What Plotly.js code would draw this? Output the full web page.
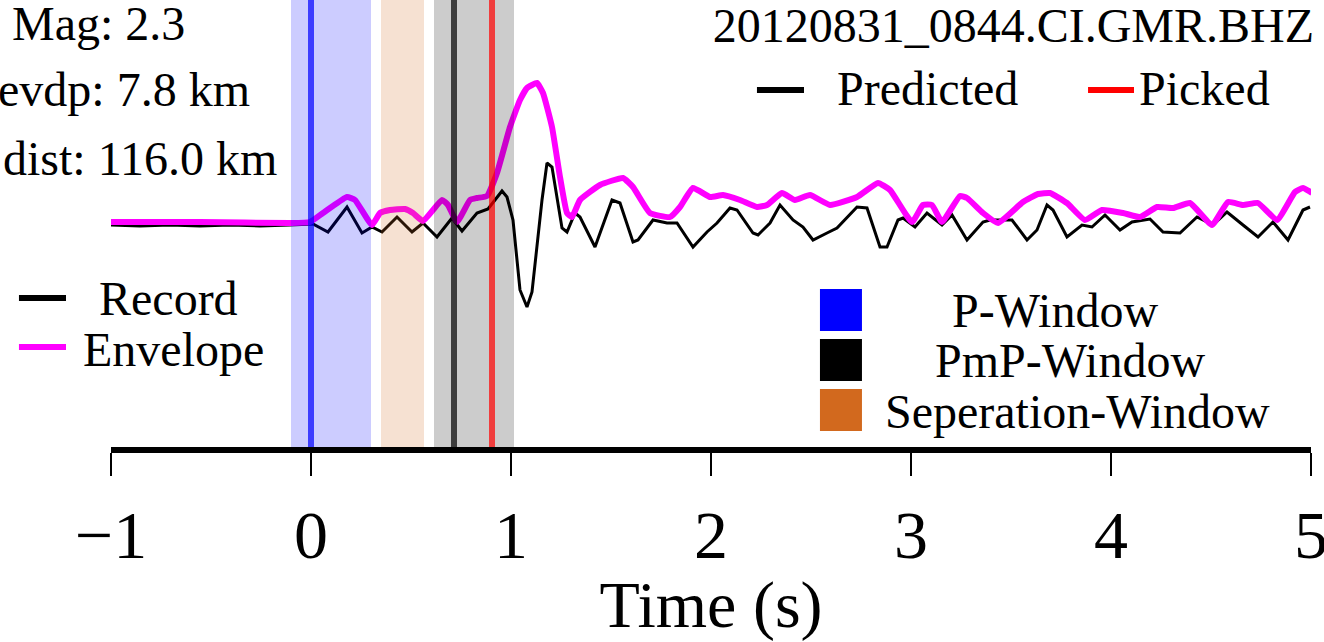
<!DOCTYPE html>
<html>
<head>
<meta charset="utf-8">
<script src="https://cdn.plot.ly/plotly-3.0.1.min.js"></script>
<style>html,body{margin:0;padding:0;background:#fff;}#chart{width:1324px;height:642px;}</style>
</head>
<body>
<div id="chart"></div>
<script>
// ---- Data ----
const stationName = "20120831_0844.CI.GMR.BHZ";
const eventInfo = ["Mag: 2.3", "evdp: 7.8 km", "dist: 116.0 km"];

// Record waveform (time in s, normalized amplitude)
const recordTime = [-1.000,-0.855,-0.705,-0.555,-0.405,-0.255,-0.105,0.010,0.085,0.180,0.255,0.305,0.355,0.430,0.505,0.560,0.630,0.705,0.755,0.830,0.885,0.955,0.980,1.010,1.045,1.080,1.105,1.155,1.180,1.205,1.255,1.280,1.320,1.345,1.420,1.505,1.545,1.610,1.635,1.710,1.780,1.830,1.910,1.980,2.030,2.095,2.130,2.210,2.235,2.295,2.345,2.410,2.460,2.510,2.580,2.630,2.730,2.780,2.845,2.880,2.935,2.960,3.020,3.080,3.155,3.205,3.280,3.360,3.395,3.505,3.580,3.630,3.680,3.710,3.780,3.855,3.905,3.970,4.045,4.105,4.195,4.260,4.345,4.430,4.510,4.580,4.660,4.735,4.810,4.885,4.960,4.995];
const recordAmp = [-0.02,-0.03,-0.02,-0.03,-0.02,-0.03,-0.02,-0.01,-0.09,0.16,-0.10,-0.04,-0.09,0.06,-0.09,0.00,-0.14,0.05,-0.08,0.10,0.14,0.32,0.26,0.03,-0.67,-0.84,-0.69,0.23,0.60,0.56,-0.05,-0.09,0.10,0.06,-0.24,0.23,0.20,-0.19,-0.17,0.03,0.00,0.00,-0.24,-0.09,0.00,0.15,0.13,-0.10,-0.12,0.00,0.18,0.03,-0.04,-0.17,-0.10,-0.05,0.16,0.15,-0.24,-0.24,0.03,0.05,-0.04,0.10,-0.02,0.08,-0.17,0.01,0.03,0.03,-0.17,-0.07,0.18,0.13,-0.14,-0.02,-0.04,0.08,-0.07,0.01,0.04,-0.09,-0.10,0.06,-0.02,0.11,-0.02,-0.14,0.01,-0.17,0.13,0.16];

// Envelope
const envTime = [-1.000,-0.555,-0.105,-0.005,0.060,0.180,0.220,0.305,0.345,0.395,0.470,0.510,0.560,0.655,0.685,0.730,0.795,0.830,0.880,0.930,0.995,1.045,1.080,1.130,1.160,1.205,1.245,1.280,1.305,1.345,1.445,1.560,1.610,1.695,1.795,1.845,1.910,1.995,2.060,2.145,2.230,2.280,2.355,2.420,2.495,2.595,2.730,2.835,2.895,3.005,3.060,3.105,3.155,3.245,3.280,3.360,3.435,3.560,3.635,3.695,3.780,3.870,3.955,4.060,4.145,4.230,4.310,4.395,4.505,4.585,4.660,4.735,4.830,4.920,4.960,5.005];
const envAmp = [0.01,0.01,0.00,0.01,0.10,0.26,0.23,-0.02,0.10,0.13,0.14,0.10,0.02,0.23,0.18,0.01,0.23,0.25,0.27,0.50,0.96,1.23,1.35,1.40,1.30,0.96,0.46,0.10,0.06,0.23,0.38,0.45,0.36,0.10,0.06,0.16,0.35,0.26,0.28,0.23,0.16,0.18,0.30,0.23,0.28,0.18,0.26,0.40,0.33,0.01,0.18,0.18,0.01,0.27,0.25,0.10,0.00,0.21,0.29,0.30,0.20,0.03,0.13,0.10,0.06,0.16,0.15,0.20,-0.02,0.21,0.18,0.20,0.03,0.31,0.35,0.30];

// Windows and phase times (s)
const pWindow = [-0.1, 0.3];
const sepWindow = [0.35, 0.565];
const pmpWindow = [0.615, 1.015];
const pArrival = 0.0;
const pmpPredicted = 0.715;
const pmpPicked = 0.905;

const xTicks = [-1, 0, 1, 2, 3, 4, 5];
const xRange = [-1, 5];
const yRange = [-2.24, 2.23];

// ---- Figure ----
const FONT = "Liberation Serif, Times New Roman, serif";

const traces = [
  {x: recordTime, y: recordAmp, type: "scatter", mode: "lines",
   line: {color: "#000000", width: 3}, name: "Record", showlegend: false, hoverinfo: "skip"},
  {x: envTime, y: envAmp, type: "scatter", mode: "lines",
   line: {color: "#ff00ff", width: 6, shape: "spline", smoothing: 0.4}, name: "Envelope", showlegend: false, hoverinfo: "skip"}
];

function vrect(win, color) {
  return {type: "rect", xref: "x", yref: "paper", x0: win[0], x1: win[1], y0: 0, y1: 1,
          fillcolor: color, line: {width: 0}, layer: "above"};
}
function vline(t, color) {
  return {type: "line", xref: "x", yref: "paper", x0: t, x1: t, y0: 0, y1: 1,
          line: {color: color, width: 6}, layer: "above"};
}
function legLine(x0, x1, y, color) {
  return {type: "line", xref: "paper", yref: "paper", x0: x0, x1: x1, y0: y, y1: y,
          line: {color: color, width: 6}};
}
function legBox(x0, x1, y0, y1, color) {
  return {type: "rect", xref: "paper", yref: "paper", x0: x0, x1: x1, y0: y0, y1: y1,
          fillcolor: color, line: {width: 0}};
}

const shapes = [
  vrect(pWindow, "rgba(0,0,255,0.2)"),
  vrect(sepWindow, "rgba(210,105,30,0.2)"),
  vrect(pmpWindow, "rgba(0,0,0,0.2)"),
  vline(pArrival, "rgba(0,0,255,0.7)"),
  vline(pmpPredicted, "rgba(0,0,0,0.7)"),
  vline(pmpPicked, "rgba(255,0,0,0.7)"),
  legLine(0.5383, 0.5775, 0.7987, "#000000"),
  legLine(0.8142, 0.8525, 0.7987, "#ff0000"),
  legLine(-0.0767, -0.0375, 0.3333, "#000000"),
  legLine(-0.0767, -0.0375, 0.2237, "#ff00ff"),
  legBox(0.5908, 0.6258, 0.2595, 0.3535, "#0000ff"),
  legBox(0.5908, 0.6258, 0.1477, 0.2416, "#000000"),
  legBox(0.5908, 0.6258, 0.0358, 0.1298, "#d2691e")
];

function ann(text, x, y, xanchor) {
  return {text: text, xref: "paper", yref: "paper", x: x, y: y, xanchor: xanchor, yanchor: "middle",
          showarrow: false, font: {family: FONT, size: 48, color: "#000"}};
}

const annotations = [
  ann(eventInfo[0], -0.0842, 0.9485, "left"),
  ann(eventInfo[1], -0.0958, 0.7987, "left"),
  ann(eventInfo[2], -0.0917, 0.6465, "left"),
  ann("Predicted", 0.6033, 0.8009, "left"),
  ann("Picked", 0.8550, 0.8009, "left"),
  ann("Record", 0.0475, 0.3311, "center"),
  ann("Envelope", 0.0517, 0.2192, "center"),
  ann("P-Window", 0.7867, 0.3043, "center"),
  ann("PmP-Window", 0.7992, 0.1924, "center"),
  ann("Seperation-Window", 0.8058, 0.0805, "center")
];

const layout = {
  width: 1324, height: 642,
  margin: {l: 111, r: 13, t: 0, b: 195},
  paper_bgcolor: "#ffffff", plot_bgcolor: "#ffffff",
  showlegend: false,
  font: {family: FONT, color: "#000"},
  title: {text: stationName, font: {family: FONT, size: 48, color: "#000"},
          xref: "container", x: 0.9925, xanchor: "right", yref: "container", y: 0.961, yanchor: "middle"},
  xaxis: {
    range: xRange, tickmode: "array", tickvals: xTicks, ticktext: xTicks.map(v => v < 0 ? "\u2212" + Math.abs(v) : String(v)),
    showgrid: false, zeroline: false,
    showline: true, linecolor: "#000", linewidth: 6,
    ticks: "outside", ticklen: 23, tickwidth: 1.5, tickcolor: "#000",
    ticklabelstandoff: 0, ticklabeloverflow: "allow",
    tickfont: {family: FONT, size: 68, color: "#000"},
    title: {text: "Time (s)", font: {family: FONT, size: 66, color: "#000"}, standoff: 36},
    automargin: false, fixedrange: true
  },
  yaxis: {range: yRange, visible: false, showgrid: false, zeroline: false, fixedrange: true},
  shapes: shapes,
  annotations: annotations
};

Plotly.newPlot("chart", traces, layout, {displayModeBar: false, staticPlot: true});
</script>
</body>
</html>
